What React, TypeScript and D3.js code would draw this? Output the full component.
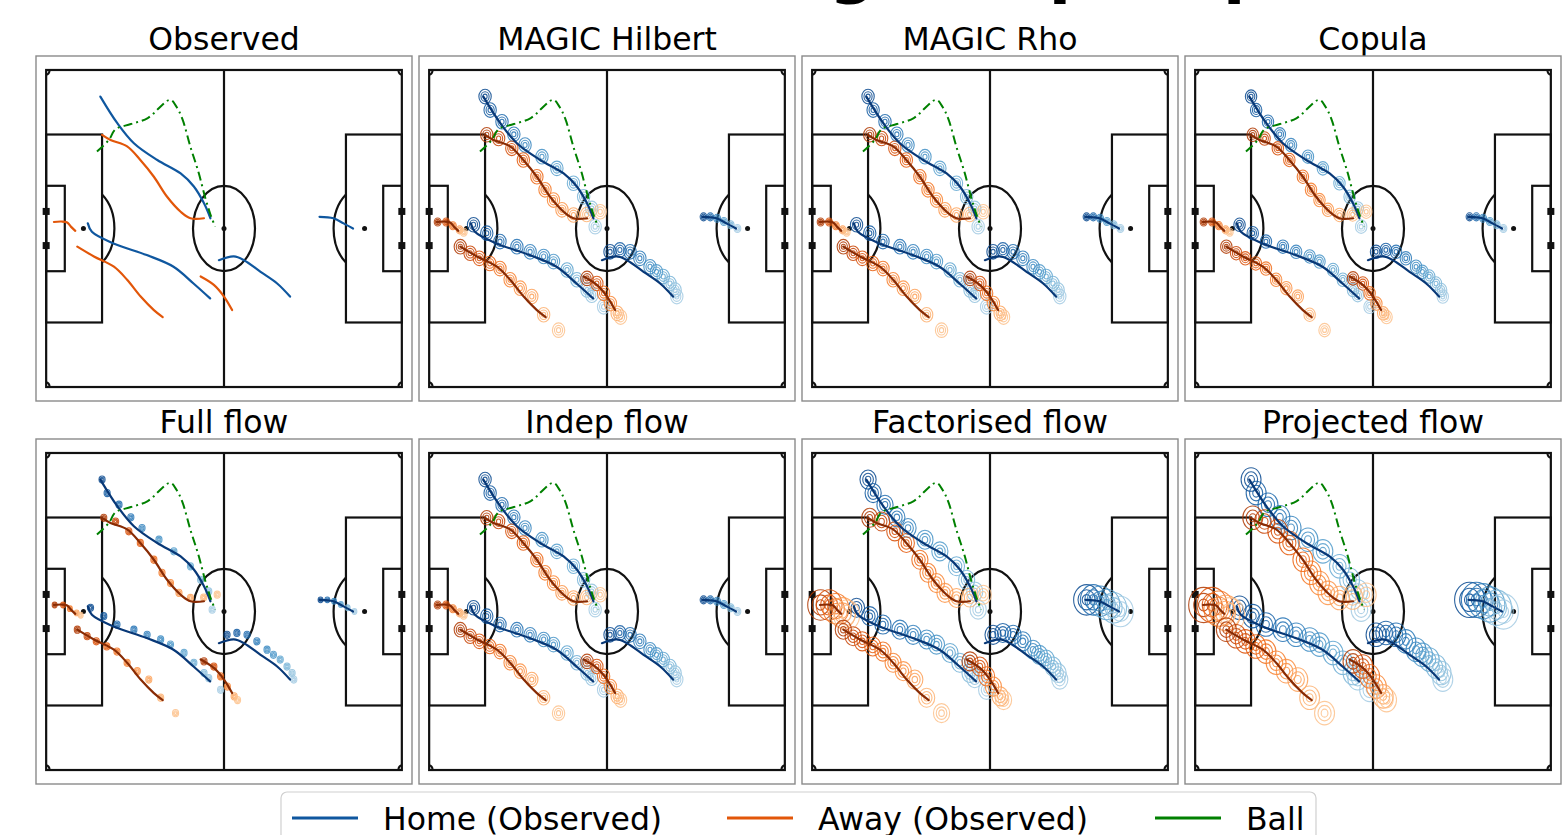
import React from 'react';
import * as d3 from 'd3';

type P = [number, number];

const suptitle = 'Forecasting samples per model';
const panelTitles = ['Observed', 'MAGIC Hilbert', 'MAGIC Rho', 'Copula', 'Full flow', 'Indep flow', 'Factorised flow', 'Projected flow'];

// Observed trajectories (pitch metres, x 0..105 from left, y 0..68 from top)
const homeTracks: P[][] = [
  [[16, 5.7], [21, 11.4], [25.9, 15.7], [32.8, 19.3], [39.7, 22.2], [43.6, 25], [46.6, 28.6], [48.5, 31.8]],
  [[12.3, 32.9], [13.5, 34.7], [19.9, 37.2], [29.7, 39.7], [37.6, 42.2], [43.5, 45.8], [48.4, 49.0]],
  [[51, 40.8], [55.4, 40.0], [58.4, 40.8], [63.3, 43.3], [68.2, 45.8], [72.0, 48.6]],
  [[80.7, 31.5], [84.8, 31.8], [87.8, 32.9], [90.6, 34.0]],
];
const awayTracks: P[][] = [
  [[16.5, 13.9], [19, 15], [23.9, 16.4], [27.8, 19.3], [31.8, 22.9], [35.7, 27.2], [39.7, 30.4], [42.6, 31.8], [46.6, 31.8]],
  [[2.3, 32.6], [4.5, 32.5], [6.2, 32.7], [7.3, 33.6], [8.6, 34.5]],
  [[9.2, 37.9], [14.1, 40.0], [20.0, 42.2], [23.9, 45.0], [27.9, 48.6], [31.8, 51.5], [34.4, 53.0]],
  [[45.6, 44.3], [49.5, 46.1], [52.5, 48.6], [54.9, 51.5]],
];
const ballTrack: P[] = [[15, 17.5], [18.5, 15], [20.5, 12.7], [25, 11.6], [30, 10.3], [36.6, 6.4], [38.4, 7.8], [40.2, 10.5], [42.6, 16.5], [45, 22], [47, 27.5], [48.5, 31], [49.9, 33.6]];

// Predicted-distribution contour centres, per trajectory
const homeContours: P[][] = [
  [[16.5, 5.7], [18, 8.6], [21.5, 11.1], [25, 13.8], [28.3, 16.1], [33.3, 18.6], [37.7, 21.1], [42.6, 24.3], [45.6, 27.2], [48, 29.7], [49, 33.6]],
  [[13.1, 33.2], [17.0, 35.0], [20.9, 36.8], [25.9, 37.9], [29.8, 39.0], [33.8, 40.0], [36.7, 41.1], [40.7, 42.9], [43.6, 45.0], [46.6, 47.2], [48.0, 48.3], [51.5, 50.8]],
  [[53.4, 39.0], [56.3, 38.6], [59.3, 39.0], [62.2, 40.4], [65.2, 42.2], [67.1, 43.3], [69.1, 44.3], [71.1, 45.8], [72.6, 47.2], [73.1, 48.6]],
  [[81, 31.5], [83, 31.5], [85, 31.8], [87, 32.5], [89, 33.2], [91, 34]],
];
const awayContours: P[][] = [
  [[17, 13.9], [20.5, 14.7], [24.4, 16.8], [27.8, 19.3], [31.8, 22.9], [34.2, 25.7], [36.7, 27.9], [39.2, 30], [42.6, 31.1], [46.5, 31], [50.5, 30.4]],
  [[2.5, 32.6], [5, 32.6], [7, 33.4], [9, 34.3], [10.2, 34.8]],
  [[9.2, 37.9], [12.1, 39.3], [14.8, 40.4], [17.9, 41.5], [20.9, 42.6], [23.9, 45.0], [26.9, 46.8], [30.3, 48.6], [33.8, 52.5], [38.2, 55.8]],
  [[46.6, 44.7], [49.5, 45.8], [51.5, 47.9], [53.5, 50.1], [55.5, 52.2], [56.5, 53.0]],
];

// ring radius (px) per panel, and extra spread for goalkeepers per panel
const ringSize = [0, 6.5, 6.5, 6, 3.2, 6.5, 8.5, 10.5];
const keeperSpread = [0, 0.55, 0.55, 0.6, 0.8, 0.55, 1.6, 1.5];

const legendLabels = ['Home (Observed)', 'Away (Observed)', 'Ball'];

const PW = 376, PH = 345;
const colX = [36, 419, 802, 1185];
const rowY = [56, 439];
const sx = d3.scaleLinear().domain([-3, 108]).range([0, PW]);
const sy = d3.scaleLinear().domain([-3, 71]).range([0, PH]);
const lineGen = d3.line<P>().x(d => sx(d[0])).y(d => sy(d[1])).curve(d3.curveCatmullRom.alpha(0.5));

const FONT = 'DejaVu Sans, sans-serif';
const homeObsColor = d3.interpolateBlues(0.85);
const awayObsColor = d3.interpolateOranges(0.7);
const homeDark = d3.interpolateBlues(0.97);
const awayDark = d3.interpolateOranges(0.97);
const ballColor = '#008000';

function Pitch() {
  const st = { fill: 'none', stroke: '#111', strokeWidth: 2.2 };
  const rx = sx(9.15) - sx(0);
  const ry = sy(9.15) - sy(0);
  const cr = sx(1) - sx(0), crY = sy(1) - sy(0);
  const dy = 7.31;
  return (
    <g>
      <rect x={0} y={0} width={PW} height={PH} fill="white" stroke="#8a8a8a" strokeWidth={1.4} />
      <rect x={sx(0)} y={sy(0)} width={sx(105) - sx(0)} height={sy(68) - sy(0)} {...st} />
      <line x1={sx(52.5)} x2={sx(52.5)} y1={sy(0)} y2={sy(68)} {...st} />
      <ellipse cx={sx(52.5)} cy={sy(34)} rx={rx} ry={ry} {...st} />
      <circle cx={sx(52.5)} cy={sy(34)} r={2.5} fill="#111" />
      <rect x={sx(0)} y={sy(13.84)} width={sx(16.5) - sx(0)} height={sy(54.16) - sy(13.84)} {...st} />
      <rect x={sx(88.5)} y={sy(13.84)} width={sx(105) - sx(88.5)} height={sy(54.16) - sy(13.84)} {...st} />
      <rect x={sx(0)} y={sy(24.84)} width={sx(5.5) - sx(0)} height={sy(43.16) - sy(24.84)} {...st} />
      <rect x={sx(99.5)} y={sy(24.84)} width={sx(105) - sx(99.5)} height={sy(43.16) - sy(24.84)} {...st} />
      <circle cx={sx(11)} cy={sy(34)} r={2.5} fill="#111" />
      <circle cx={sx(94)} cy={sy(34)} r={2.5} fill="#111" />
      <path d={`M${sx(16.5)},${sy(34 - dy)} A${rx},${ry} 0 0 1 ${sx(16.5)},${sy(34 + dy)}`} {...st} />
      <path d={`M${sx(88.5)},${sy(34 - dy)} A${rx},${ry} 0 0 0 ${sx(88.5)},${sy(34 + dy)}`} {...st} />
      {[30.34, 37.66].map((gy, i) => (
        <g key={i}>
          <rect x={sx(0) - 3.5} y={sy(gy) - 3.5} width={7} height={7} fill="#111" />
          <rect x={sx(105) - 3.5} y={sy(gy) - 3.5} width={7} height={7} fill="#111" />
        </g>
      ))}
      <path d={`M${sx(0) + cr},${sy(0)} A${cr},${crY} 0 0 1 ${sx(0)},${sy(0) + crY}`} {...st} />
      <path d={`M${sx(105) - cr},${sy(0)} A${cr},${crY} 0 0 0 ${sx(105)},${sy(0) + crY}`} {...st} />
      <path d={`M${sx(0) + cr},${sy(68)} A${cr},${crY} 0 0 0 ${sx(0)},${sy(68) - crY}`} {...st} />
      <path d={`M${sx(105) - cr},${sy(68)} A${cr},${crY} 0 0 1 ${sx(105)},${sy(68) - crY}`} {...st} />
    </g>
  );
}

function Rings({ centres, size, home }: { centres: P[]; size: number; home: boolean }) {
  const n = centres.length;
  return (
    <g>
      {centres.map((c, i) => {
        const t = n > 1 ? i / (n - 1) : 0;
        const col = home ? d3.interpolateBlues(0.9 - 0.55 * t) : d3.interpolateOranges(0.85 - 0.55 * t);
        return (
          <g key={i} stroke={col} fill="none" strokeWidth={1.1} opacity={0.85}>
            {[1, 0.66, 0.34].map((k, j) => (
              <ellipse key={j} cx={sx(c[0])} cy={sy(c[1])} rx={size * k * 0.95} ry={size * k * 1.12} />
            ))}
          </g>
        );
      })}
    </g>
  );
}

function Panel({ idx }: { idx: number }) {
  const c = idx % 4, r = Math.floor(idx / 4);
  const observed = idx === 0;
  const sz = ringSize[idx];
  return (
    <g transform={`translate(${colX[c]},${rowY[r]})`}>
      <text x={PW / 2} y={-6} textAnchor="middle" fontFamily={FONT} fontSize={31.5} fill="#000">{panelTitles[idx]}</text>
      <Pitch />
      {!observed && homeContours.map((cs, i) => <Rings key={'h' + i} centres={cs} size={i === 3 ? sz * keeperSpread[idx] : sz} home={true} />)}
      {!observed && awayContours.map((cs, i) => <Rings key={'a' + i} centres={cs} size={i === 1 ? sz * keeperSpread[idx] : sz} home={false} />)}
      {homeTracks.map((t, i) => (
        <path key={'ht' + i} d={lineGen(t) || ''} fill="none" stroke={observed ? homeObsColor : homeDark} strokeWidth={2.2} strokeLinecap="round" />
      ))}
      {awayTracks.map((t, i) => (
        <path key={'at' + i} d={lineGen(t) || ''} fill="none" stroke={observed ? awayObsColor : awayDark} strokeWidth={2.2} strokeLinecap="round" />
      ))}
      <path d={lineGen(ballTrack) || ''} fill="none" stroke={ballColor} strokeWidth={2} strokeDasharray="9,4,2,4" />
    </g>
  );
}

function Legend() {
  const cols = [homeObsColor, awayObsColor, ballColor];
  const lx = [292, 727, 1155];
  return (
    <g>
      <rect x={281} y={792} width={1035} height={70} rx={6} fill="white" stroke="#d0d0d0" strokeWidth={1.2} />
      {legendLabels.map((lab, i) => (
        <g key={i}>
          <line x1={lx[i]} x2={lx[i] + 66} y1={818} y2={818} stroke={cols[i]} strokeWidth={3} />
          <text x={lx[i] + 91} y={829.5} fontFamily={FONT} fontSize={31.5} fill="#000">{lab}</text>
        </g>
      ))}
    </g>
  );
}

export default function App() {
  return (
    <svg width={1564} height={835} style={{ position: 'absolute', left: 0, top: 0, background: 'white' }}>
      <rect x={0} y={0} width={1564} height={835} fill="white" />
      <text x={446} y={-10} fontFamily={FONT} fontWeight="bold" fontSize={65} fill="#000">{suptitle}</text>
      {panelTitles.map((_, i) => <Panel key={i} idx={i} />)}
      <Legend />
    </svg>
  );
}
